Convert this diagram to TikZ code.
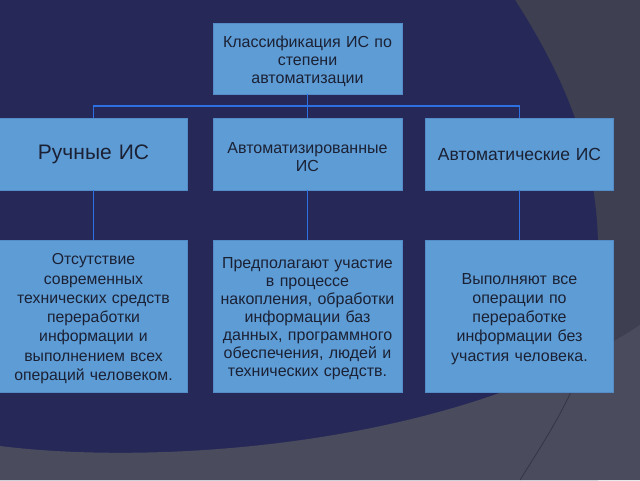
\documentclass[tikz,border=0pt]{standalone}
\usepackage{fontspec}
\setmainfont{Liberation Sans}
\usetikzlibrary{positioning}
\definecolor{slatebg}{RGB}{62,63,80}
\definecolor{slatelow}{RGB}{74,75,93}
\definecolor{navybg}{RGB}{38,41,88}
\definecolor{boxfill}{RGB}{94,156,213}
\definecolor{boxedge}{RGB}{84,140,200}
\definecolor{linkblue}{RGB}{45,112,228}
\definecolor{inkdark}{RGB}{27,33,52}

\begin{document}
\begin{tikzpicture}[x=1pt, y=-1pt,
    box/.style={fill=boxfill, draw=boxedge, line width=0.8pt, text=inkdark, align=center, inner sep=0pt},
    lowered/.style={execute at begin node={\rule{0pt}{1.05em}}},
    headbox/.style={box, lowered, minimum width=189pt, minimum height=71pt, text width=185pt, font=\fontsize{16}{18.3}\selectfont},
    kindbox/.style={box, minimum width=188pt, minimum height=72pt, text width=184pt},
    notebox/.style={box, lowered, minimum width=188pt, minimum height=152pt, text width=184pt},
    link/.style={draw=linkblue, line width=1.9pt}]
    \useasboundingbox (0,0) rectangle (640,480);

    % Background
    \fill[slatebg] (0,0) rectangle (640,480);
    \fill[navybg] (0,0) -- (515,0) .. controls (560,70) and (598,150) .. (598,250) -- (598,480) -- (0,480) -- cycle;
    \fill[slatelow] (0,446) .. controls (150,465) and (450,450) .. (640,325) -- (640,480) -- (0,480) -- cycle;
    \draw[slatebg!85!black, line width=0.8pt] (520,480) .. controls (545,440) and (565,410) .. (585,360);

    % Top node
    \node[headbox] (head) at (307.5,58.5) {Классификация ИС по\\степени\\автоматизации};

    % Kinds of systems
    \node[kindbox, font=\fontsize{21}{24}\selectfont] (manual) at (93.5,154) {Ручные ИС};
    \node[kindbox, lowered, minimum width=189pt, font=\fontsize{16}{18.3}\selectfont] (semi) at (307.5,154) {Автоматизированные\\ИС};
    \node[kindbox, font=\fontsize{17.5}{20}\selectfont] (full) at (519.5,154) {Автоматические ИС};

    % Descriptions
    \node[notebox, font=\fontsize{15.8}{19.3}\selectfont] (manualnote) at (93.5,316)
        {Отсутствие\\современных\\технических средств\\переработки\\информации и\\выполнением всех\\операций человеком.};
    \node[notebox, minimum width=189pt, font=\fontsize{16}{18}\selectfont] (seminote) at (307.5,316)
        {Предполагают участие\\в процессе\\накопления, обработки\\информации баз\\данных, программного\\обеспечения, людей и\\технических средств.};
    \node[notebox, font=\fontsize{16}{19.2}\selectfont] (fullnote) at (519.5,316)
        {Выполняют все\\операции по\\переработке\\информации без\\участия человека.};

    % Connectors
    \coordinate (bus) at (0,106);
    \draw[link] (head.south) -- (semi.north);
    \draw[link] (manual.north) -- (manual.north |- bus) -- (full.north |- bus) -- (full.north);
    \draw[link] (manual.south) -- (manualnote.north);
    \draw[link] (semi.south) -- (seminote.north);
    \draw[link] (full.south) -- (fullnote.north);
\end{tikzpicture}
\end{document}
